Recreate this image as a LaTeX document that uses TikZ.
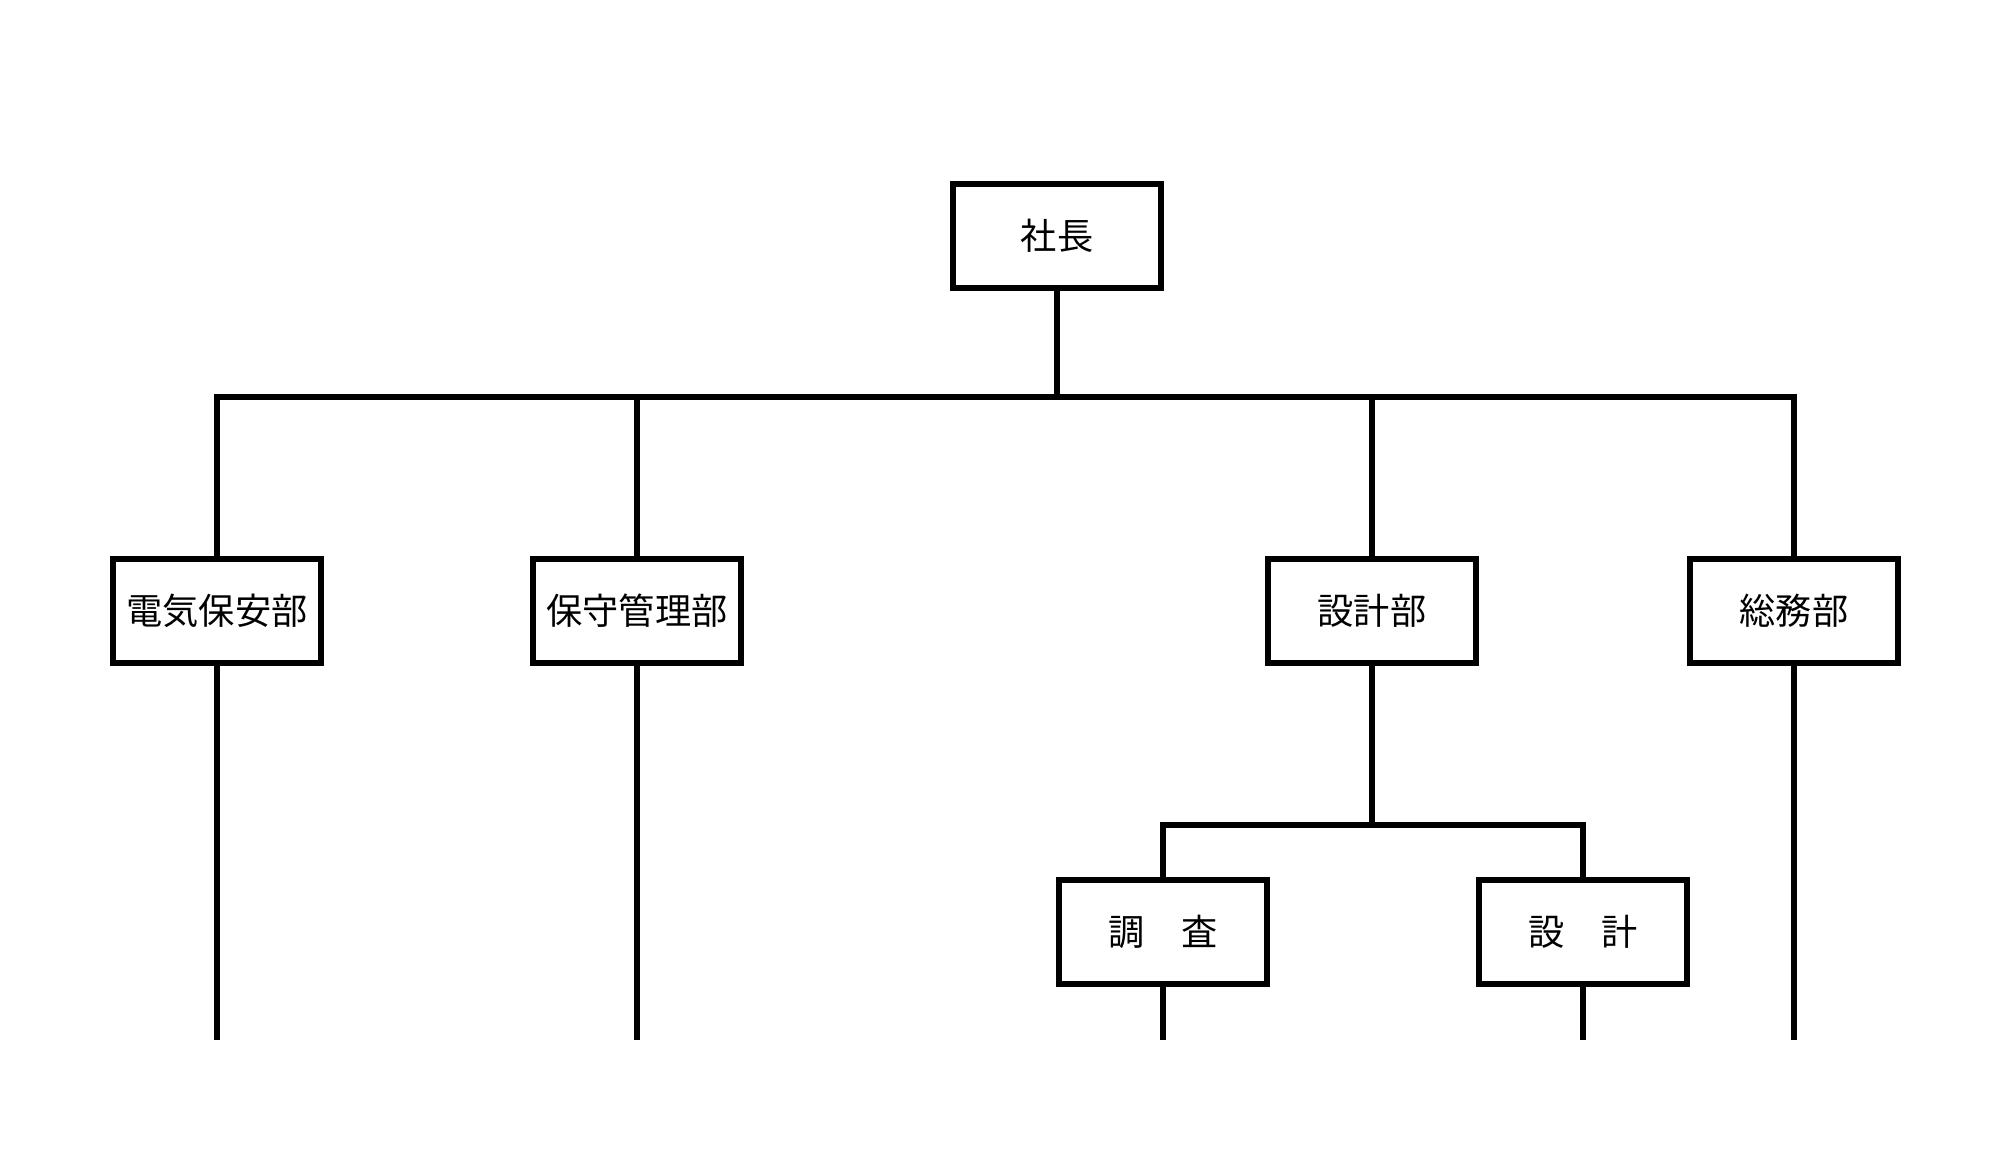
\documentclass[tikz,border=0pt]{standalone}
\usepackage{fontspec}
\setmainfont{Noto Sans CJK JP}
\usepackage{tikz}
\usetikzlibrary{positioning}

\begin{document}
\begin{tikzpicture}[
    box/.style={rectangle, draw, line width=1.8pt, fill=white, minimum width=2.08cm, minimum height=1.04cm, align=center, font=\fontsize{10.3}{12}\selectfont},
    line/.style={line width=1.8pt}
]
\useasboundingbox (0,0) rectangle (20,-11.48);

% Nodes
\node[box] (pres) at (10.57,-2.36) {社長};
\node[box] (elec) at (2.17,-6.11) {電気保安部};
\node[box] (maint) at (6.37,-6.11) {保守管理部};
\node[box] (design) at (13.72,-6.11) {設計部};
\node[box] (admin) at (17.94,-6.11) {総務部};
\node[box] (survey) at (11.63,-9.32) {調\quad 査};
\node[box] (plan) at (15.83,-9.32) {設\quad 計};

% Bus levels
\coordinate (bus) at (10,-3.97);
\coordinate (subbus) at (13,-8.25);
\coordinate (bottom) at (0,-10.40);

% Lines
\draw[line] (pres) -- (pres |- bus);
\draw[line] (elec) |- (bus) -| (admin);
\draw[line] (maint) -- (maint |- bus);
\draw[line] (design) -- (design |- bus);
\draw[line] (design) -- (design |- subbus);
\draw[line] (survey) |- (subbus) -| (plan);

% Open ends
\draw[line] (elec) -- (elec |- bottom);
\draw[line] (maint) -- (maint |- bottom);
\draw[line] (admin) -- (admin |- bottom);
\draw[line] (survey) -- (survey |- bottom);
\draw[line] (plan) -- (plan |- bottom);

\end{tikzpicture}
\end{document}
